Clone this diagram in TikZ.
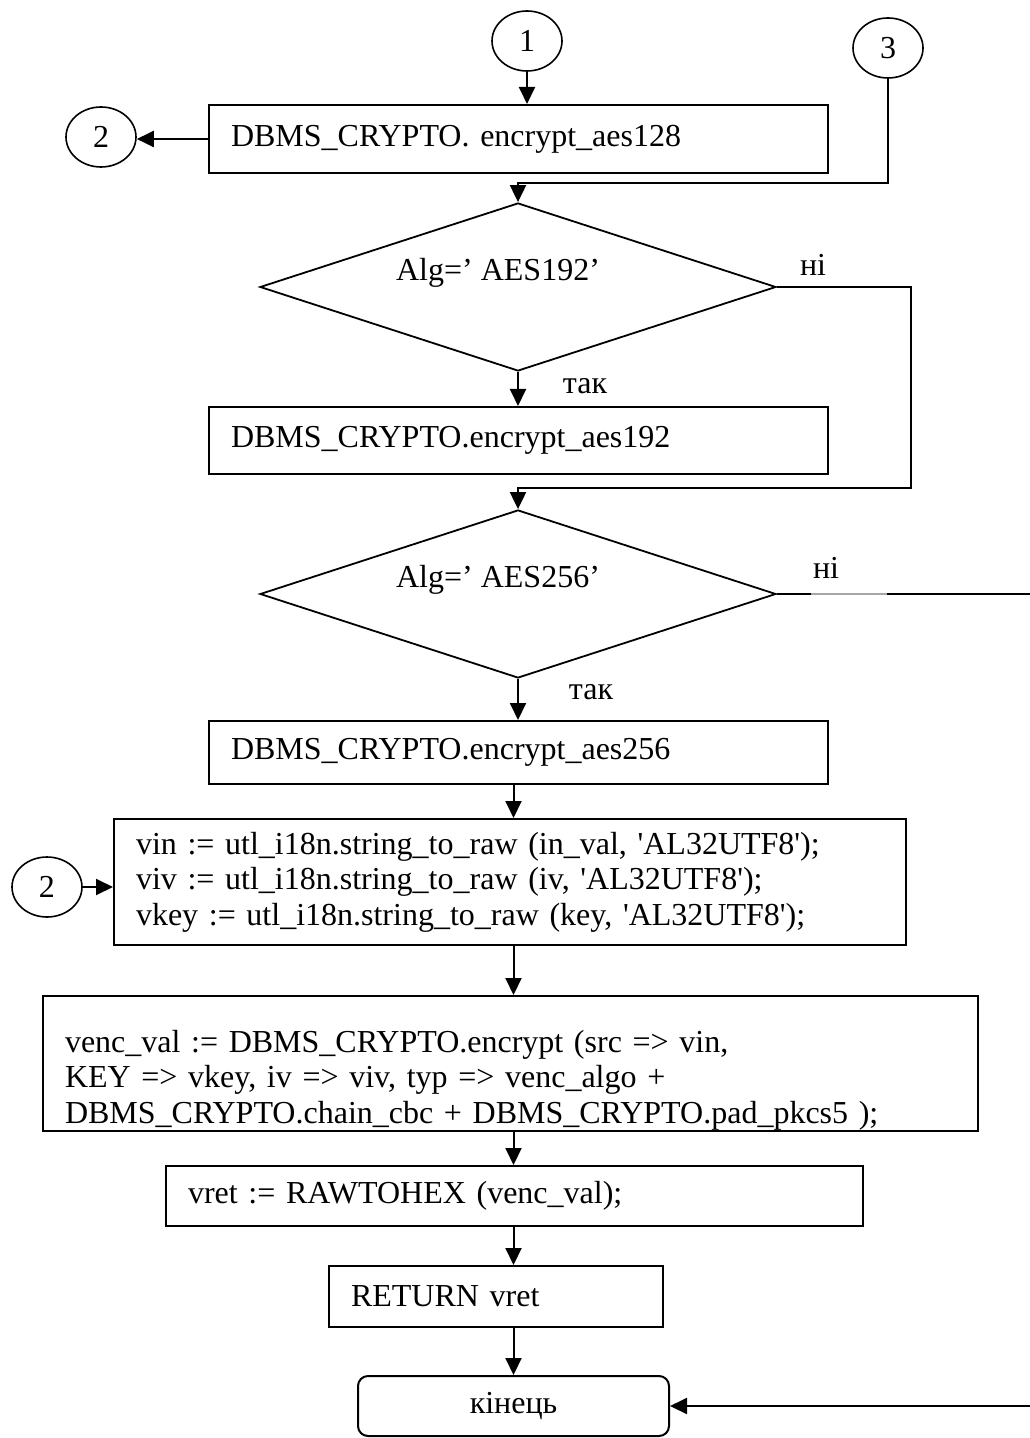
\documentclass[tikz,border=0pt]{standalone}
\usepackage{fontspec}
\setmainfont{Liberation Serif}
\usetikzlibrary{shapes.geometric,arrows.meta}

\newcommand\sq{\textquotesingle}

\tikzset{
  ell/.style={draw, ellipse, line width=0.8pt, minimum width=35pt, minimum height=30pt, inner sep=0pt},
  proc/.style={draw, line width=1pt, anchor=north west, align=left, inner xsep=11pt, inner ysep=0pt},
  cond/.style={draw, diamond, line width=0.9pt, minimum width=258pt, minimum height=84pt, inner sep=0pt},
  arr/.style={-{Triangle[length=8.5pt,width=8pt]}, line width=1pt},
  lbl/.style={inner sep=0pt}
}

\begin{document}
\begin{tikzpicture}[x=0.5pt, y=-0.5pt, font=\fontsize{16}{17.8}\selectfont]
        \useasboundingbox (0,0) rectangle (1029,1438);

        % connectors (circles)
        \node[ell] (c1) at (527,41) {1};
        \node[ell] (c3) at (888,48) {3};
        \node[ell] (c2a) at (101,137) {2};
        \node[ell] (c2b) at (47,887) {2};

        % blocks
        \node[proc, text width=287.5pt, minimum height=34pt] (p128) at (208,104) {DBMS\_CRYPTO. encrypt\_aes128};
        \node[cond, label={[xshift=-10pt, yshift=7pt]center:Alg=’ AES192’}] (d192) at (518,287) {};
        \node[proc, text width=287.5pt, minimum height=33.5pt] (p192) at (208,406) {DBMS\_CRYPTO.encrypt\_aes192};
        \node[cond, label={[xshift=-10pt, yshift=7pt]center:Alg=’ AES256’}] (d256) at (518,594) {};
        \node[proc, text width=287.5pt, minimum height=31.5pt] (p256) at (208,720) {DBMS\_CRYPTO.encrypt\_aes256};
        \node[proc, text width=374pt, minimum height=63pt] (pin) at (113,818) {vin := utl\_i18n.string\_to\_raw (in\_val, \sq AL32UTF8\sq);\\
          viv := utl\_i18n.string\_to\_raw (iv, \sq AL32UTF8\sq);\\
          vkey := utl\_i18n.string\_to\_raw (key, \sq AL32UTF8\sq);};
        \node[proc, text width=445.5pt, minimum height=67.5pt] (pbig) at (42,995) {\rule{0pt}{27.5pt}venc\_val := DBMS\_CRYPTO.encrypt (src => vin,\\
          KEY => vkey, iv => viv, typ => venc\_algo +\\
          DBMS\_CRYPTO.chain\_cbc + DBMS\_CRYPTO.pad\_pkcs5 );};
        \node[proc, text width=326.5pt, minimum height=30pt] (pret) at (165,1165) {vret := RAWTOHEX (venc\_val);};
        \node[proc, text width=145pt, minimum height=30.5pt] (pout) at (328,1265) {RETURN vret};
        \node[draw, line width=1pt, rounded corners=5pt, minimum width=155.5pt, minimum height=30pt] (fin) at (513.5,1406) {кінець};

        % branch labels
        \node[lbl] (n1) at (813,265) {ні};
        \node[lbl] (t1) at (585,386) {так};
        \node[lbl] (n2) at (826,568) {ні};
        \node[lbl] (t2) at (591,692) {так};

        \coordinate (j1) at (518,183);
        \coordinate (r1) at (911,287);
        \coordinate (j2) at (518,488);
        \coordinate (r2) at (1031,594);

        \draw[arr] (c1.south) -- (c1.south |- p128.north);
        \draw[arr] (p128.west) -- (p128.west -| c2a.east);
        \draw[arr] (c3.south) |- (j1) -- (d192.north);
        \draw[arr] (d192.south) -- (p192.north -| d192.south);
        \draw[arr] (d192.east) -- (r1) |- (j2) -- (d256.north);
        \draw[arr] (d256.south) -- (p256.north -| d256.south);
        \draw[arr] (d256.east) -- (r2) |- (fin.east);
        % faint piece of the "ni" line
        \draw[white, line width=1.2pt] (811,594) -- (887,594);
        \draw[gray!70, line width=0.6pt] (811,594) -- (887,594);
        \draw[arr] (p256.south -| fin.north) -- (pin.north -| fin.north);
        \draw[arr] (c2b.east) -- (c2b.east -| pin.west);
        \draw[arr] (pin.south -| fin.north) -- (pbig.north -| fin.north);
        \draw[arr] (pbig.south -| fin.north) -- (pret.north -| fin.north);
        \draw[arr] (pret.south -| fin.north) -- (pout.north -| fin.north);
        \draw[arr] (pout.south -| fin.north) -- (fin.north);
    \end{tikzpicture}
\end{document}
